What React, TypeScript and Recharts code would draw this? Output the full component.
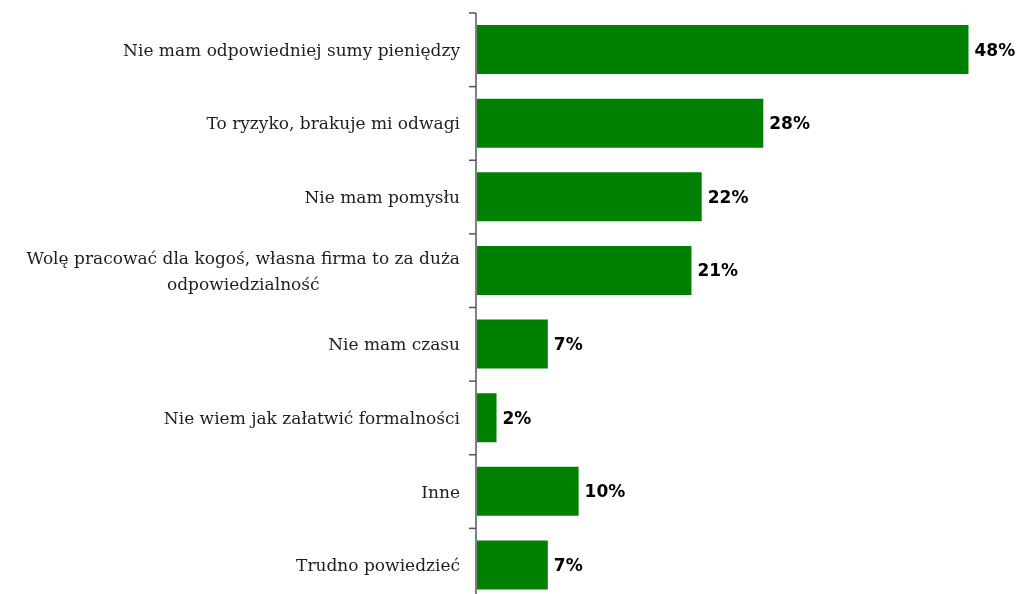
import { Bar, BarChart, LabelList, XAxis, YAxis } from "recharts";

const reasons = [
  "Nie mam odpowiedniej sumy pieniędzy",
  "To ryzyko, brakuje mi odwagi",
  "Nie mam pomysłu",
  "Wolę pracować dla kogoś, własna firma to za duża odpowiedzialność",
  "Nie mam czasu",
  "Nie wiem jak załatwić formalności",
  "Inne",
  "Trudno powiedzieć",
];

const shares = [48, 28, 22, 21, 7, 2, 10, 7];

const data = reasons.map((reason, i) => ({ reason, share: shares[i] }));

const WIDTH = 1009;
const HEIGHT = 594;
const MARGIN = { top: 5, right: 28, bottom: 0, left: 0 };
const AXIS_W = 468;
const BAND = (HEIGHT - MARGIN.top - MARGIN.bottom) / reasons.length;
const LABEL_SIZE = 17;
const LABEL_FONT = `${LABEL_SIZE}px 'DejaVu Serif'`;
const WRAP_AT = 455;

let ctx: CanvasRenderingContext2D | null = null;
const measure = (s: string) => {
  if (!ctx) {
    ctx = document.createElement("canvas").getContext("2d");
    if (ctx) ctx.font = LABEL_FONT;
  }
  return ctx ? ctx.measureText(s).width : s.length * 10;
};

// word-wrap long category names, like the original chart did
const wrap = (text: string) => {
  const words = text.split(" ");
  const lines: string[] = [];
  let cur = "";
  for (const w of words) {
    const next = cur ? cur + " " + w : w;
    if (cur && measure(next) > WRAP_AT) {
      lines.push(cur);
      cur = w;
    } else {
      cur = next;
    }
  }
  lines.push(cur);
  return lines;
};

// category label plus a tick mark on the band boundary above it
const ReasonTick = (props: any) => {
  const { y, payload, index } = props;
  const right = AXIS_W - 16;
  const lines = wrap(String(payload.value));
  const lineH = 26;
  const top = y - ((lines.length - 1) * lineH) / 2;
  const widest = Math.max(...lines.map(measure));
  const multi = lines.length > 1;
  return (
    <g>
      <line x1={AXIS_W - 7} x2={AXIS_W} y1={y - BAND / 2} y2={y - BAND / 2} stroke="#555" strokeWidth={1.5} />
      {index === reasons.length - 1 && (
        <line x1={AXIS_W - 7} x2={AXIS_W} y1={y + BAND / 2} y2={y + BAND / 2} stroke="#555" strokeWidth={1.5} />
      )}
      <text
        fontFamily="DejaVu Serif"
        fontSize={LABEL_SIZE}
        fill="#1e1e1e"
        textAnchor={multi ? "middle" : "end"}
        dominantBaseline="central"
      >
        {lines.map((l, i) => (
          <tspan key={i} x={multi ? right - widest / 2 : right} y={top + i * lineH}>
            {l}
          </tspan>
        ))}
      </text>
    </g>
  );
};

export default function App() {
  return (
    <div style={{ position: "fixed", left: 8, top: 8 }}>
      <BarChart width={WIDTH} height={HEIGHT} data={data} layout="vertical" margin={MARGIN}>
        <XAxis type="number" domain={[0, 50]} hide />
        <YAxis
          type="category"
          dataKey="reason"
          width={AXIS_W}
          axisLine={{ stroke: "#808080", strokeWidth: 2 }}
          tickLine={false}
          tick={<ReasonTick />}
          interval={0}
        />
        <Bar dataKey="share" fill="#008000" barSize={49} isAnimationActive={false}>
          <LabelList
            dataKey="share"
            position="right"
            offset={6}
            formatter={(v: any) => `${v}%`}
            style={{ fontFamily: "DejaVu Sans", fontWeight: "bold", fontSize: 17, fill: "#000" }}
          />
        </Bar>
      </BarChart>
    </div>
  );
}
